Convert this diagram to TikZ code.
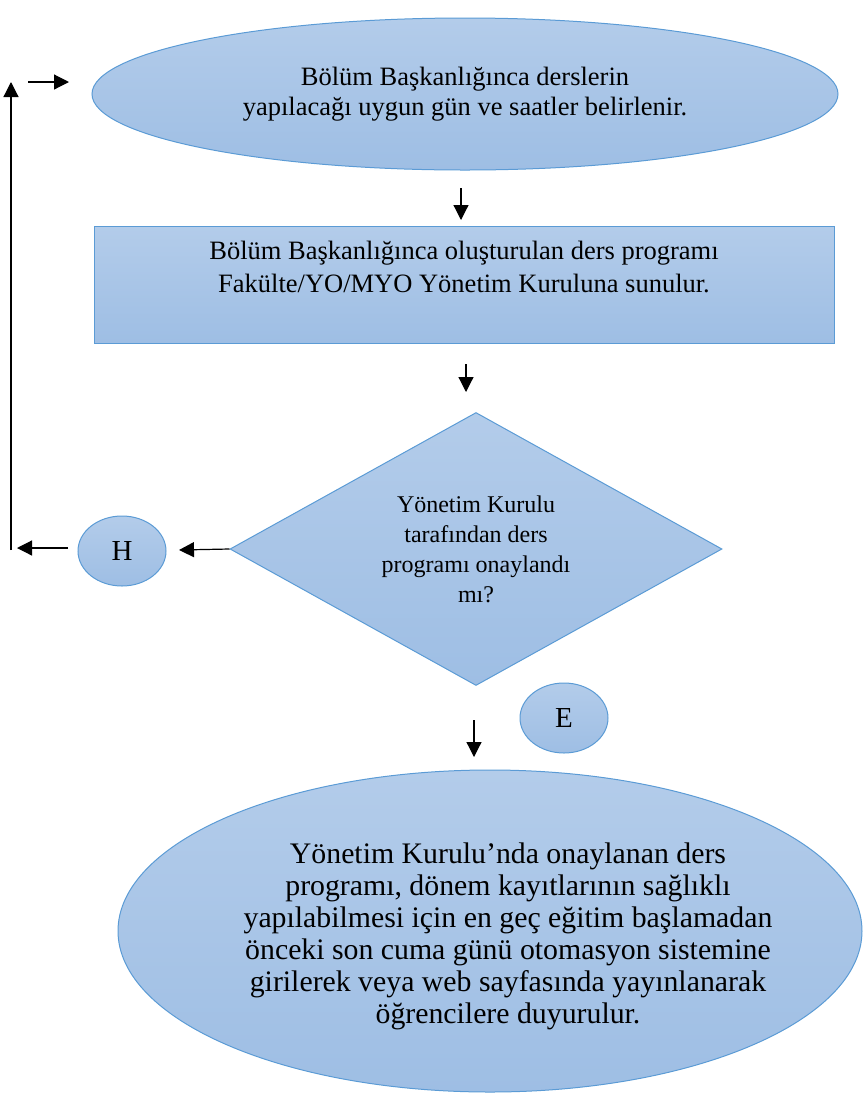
\documentclass[tikz,border=0pt]{standalone}
\usepackage{fontspec}
\setmainfont{Liberation Serif}
\usetikzlibrary{shapes.geometric,arrows.meta}
\definecolor{fillTop}{HTML}{B3CCEA}
\definecolor{fillBot}{HTML}{9EBEE4}
\definecolor{edge}{HTML}{5B9BD5}

\begin{document}
\begin{tikzpicture}
  [x=1pt,y=-1pt,
   blob/.style={draw=edge, line width=1pt, top color=fillTop, bottom color=fillBot,
                inner sep=0pt, align=center, font=\fontsize{26.5}{30}\selectfont},
   txt/.style={inner sep=0pt, align=center, font=\fontsize{26.5}{32.5}\selectfont},
   arr/.style={-{Triangle[length=15pt,width=15pt]}, line width=1.2pt}]
  \useasboundingbox (0,0) rectangle (864,1096);

  \node[blob, ellipse, minimum width=746, minimum height=152] (gun) at (465,94)
    {Bölüm Başkanlığınca derslerin\\ yapılacağı uygun gün ve saatler belirlenir.};
  \node[blob, rectangle, minimum width=740, minimum height=117] (prog) at (464,284.5) {};
  \node[txt] (progtxt) at (464,267)
    {Bölüm Başkanlığınca oluşturulan ders programı\\ Fakülte/YO/MYO Yönetim Kuruluna sunulur.};
  \node[blob, diamond, aspect=2.4, minimum width=492, minimum height=273,
        font=\fontsize{24}{30}\selectfont] (dia) at (476,549)
    {Yönetim Kurulu\\ tarafından ders\\ programı onaylandı\\ mı?};
  \node[blob, ellipse, minimum width=88, minimum height=70, font=\fontsize{29}{30}\selectfont] (h) at (122,551) {H};
  \node[blob, ellipse, minimum width=88, minimum height=70, font=\fontsize{29}{30}\selectfont] (e) at (564,718) {E};
  \node[blob, ellipse, minimum width=744, minimum height=322] (duyuru) at (490,931) {};
  \node[txt, font=\fontsize{29.8}{32}\selectfont] (duyurutxt) at (508,936)
    {Yönetim Kurulu’nda onaylanan ders\\ programı, dönem kayıtlarının sağlıklı\\
     yapılabilmesi için en geç eğitim başlamadan\\ önceki son cuma günü otomasyon sistemine\\
     girilerek veya web sayfasında yayınlanarak\\ öğrencilere duyurulur.};

  % free arrow ends
  \coordinate (backbot) at (11,550);
  \coordinate (backtop) at (11,82);
  \coordinate (retS) at (28,82);
  \coordinate (retE) at (69,82);
  \coordinate (d1s) at (461,188);
  \coordinate (d1e) at (461,220);
  \coordinate (d2s) at (466,364);
  \coordinate (d2e) at (466,392);
  \coordinate (hin) at (179,550);
  \coordinate (hS) at (68,548);
  \coordinate (hE) at (17,548);
  \coordinate (d3s) at (474,720);
  \coordinate (d3e) at (474,757);

  \foreach \from/\to in {backbot/backtop,retS/retE,d1s/d1e,d2s/d2e,dia.west/hin,hS/hE,d3s/d3e}
    \draw[arr] (\from) -- (\to);

\end{tikzpicture}
\end{document}
